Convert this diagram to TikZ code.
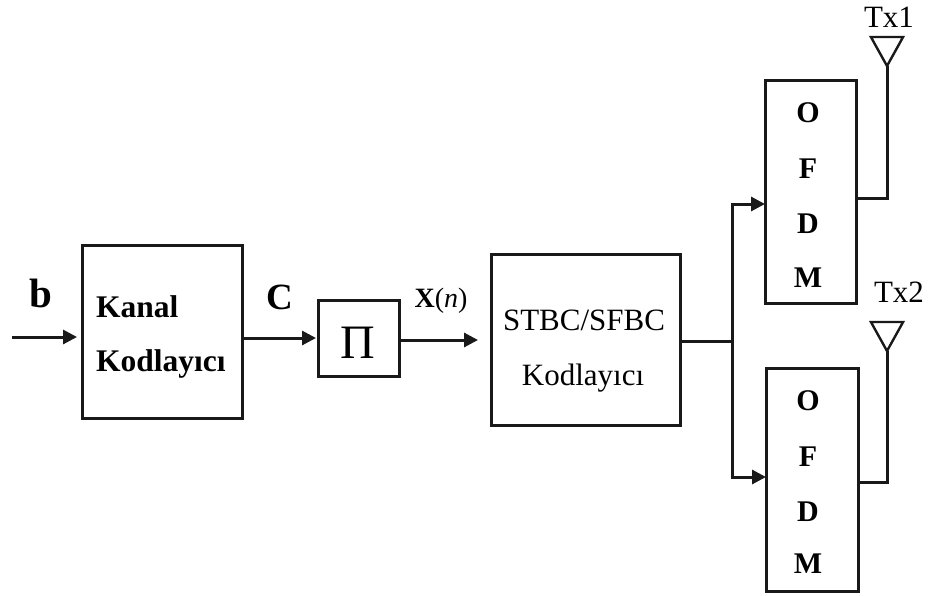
\documentclass[tikz,border=0pt]{standalone}
\usepackage{fontspec}
\setmainfont{Liberation Serif}
\usetikzlibrary{arrows.meta,shapes.geometric}
\begin{document}
\begin{tikzpicture}[x=1pt,y=-1pt,
  blk/.style={draw=black!90,line width=3pt,inner sep=0pt,outer sep=0pt},
  wire/.style={draw=black!90,line width=3pt},
  arr/.style={wire,-{Triangle[length=14pt,width=14pt]}},
  ant/.style={draw=black!90,line width=2.4pt,isosceles triangle,shape border rotate=-90,isosceles triangle apex angle=58,minimum height=29pt,inner sep=0pt,outer sep=0pt,anchor=apex},
  txt/.style={inner sep=0pt,anchor=base,font=\fontsize{31}{34}\selectfont},
  bld/.style={inner sep=0pt,anchor=base,font=\fontsize{30}{34}\selectfont\bfseries}]
\useasboundingbox (0,0) rectangle (928,595);
\node[blk,minimum width=160pt,minimum height=173pt] (kod) at (162,331.5) {};
\node[bld,anchor=base west,font=\fontsize{31.5}{34}\selectfont\bfseries] (t1) at (96,317) {Kanal};
\node[bld,anchor=base west,font=\fontsize{31.5}{34}\selectfont\bfseries] (t2) at (96,371) {Kodlayıcı};
\node[blk,minimum width=81pt,minimum height=76pt] (pi) at (358.5,338) {};
\node[txt,font=\fontsize{48}{50}\selectfont] (pit) at (358,358) {Π};
\node[blk,minimum width=189pt,minimum height=171pt] (st) at (585.5,339.5) {};
\node[txt] (s1) at (584,330) {STBC/SFBC};
\node[txt] (s2) at (583,385) {Kodlayıcı};
\node[blk,minimum width=91pt,minimum height=223pt] (o1) at (810.5,191.5) {};
\node[blk,minimum width=92pt,minimum height=223pt] (o2) at (812,479.5) {};
\foreach \n/\l/\y in {a/O/122,b/F/178,c/D/233,d/M/287}{\node[bld] (u\n) at (808,\y) {\l};}
\foreach \n/\l/\y in {a/O/410,b/F/466,c/D/521,d/M/573}{\node[bld] (v\n) at (808,\y) {\l};}
\node[bld,font=\fontsize{41}{44}\selectfont\bfseries] (bl) at (41,307) {b};
\node[bld,font=\fontsize{37}{40}\selectfont\bfseries] (cl) at (280,309) {C};
\node[txt,font=\fontsize{28}{30}\selectfont] (xl) at (441,307) {\textbf{X}(\textit{n})};
\node[txt] (tx1) at (889,27) {Tx1};
\node[txt] (tx2) at (899,302) {Tx2};
\coordinate (ap1) at (887,66);
\coordinate (ap2) at (887,351);
\node[ant] (a1) at (ap1) {};
\node[ant] (a2) at (ap2) {};
\coordinate (in) at (12,337);
\coordinate (j) at (732,341);
\coordinate (pe) at (478,340);
\draw[arr,shorten >=5pt] (in) -- (kod.west |- in);
\draw[arr,shorten >=2pt] (kod.east |- 0,338) -- (pi.west |- 0,338);
\draw[arr] (pi.east |- pe) -- (pe);
\draw[wire] (st.east |- j) -- (j);
\draw[arr] (j) |- (o1.west |- 0,204);
\draw[arr] (j) |- (o2.west |- 0,477);
\draw[wire] (o1.east |- 0,198) -| (a1.apex);
\draw[wire] (o2.east |- 0,482) -| (a2.apex);
\end{tikzpicture}
\end{document}
